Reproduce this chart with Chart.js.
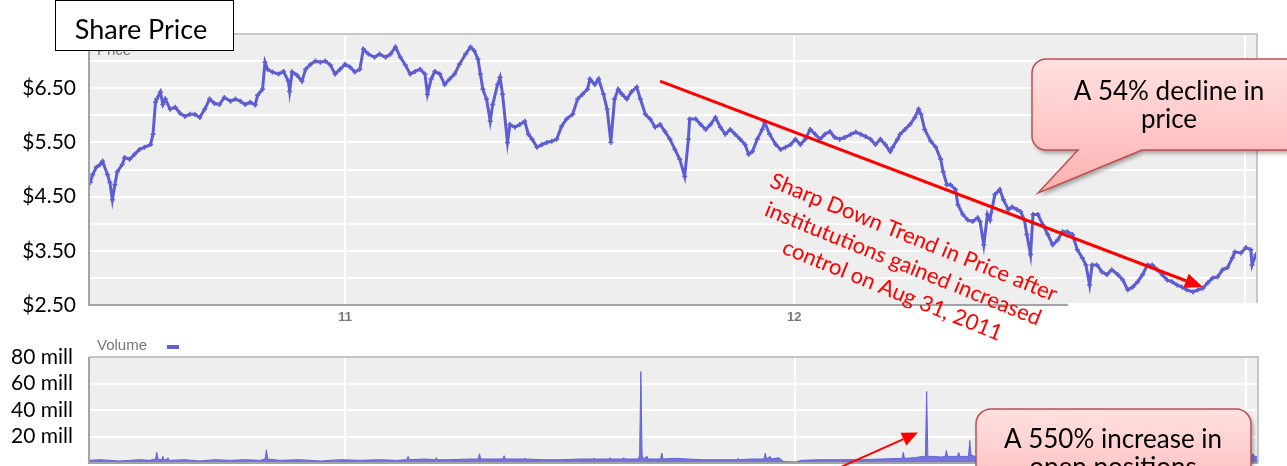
<!DOCTYPE html>
<html>
<head>
<meta charset="utf-8">
<script src="https://cdn.jsdelivr.net/npm/chart.js@4.4.0/dist/chart.umd.min.js"></script>
<style>
  body { margin: 0; background: #fff; overflow: hidden; }
  canvas { position: absolute; left: 0; }
  #price { top: 0; }
  #volume { top: 330px; }
</style>
</head>
<body>
<canvas id="price" width="1287" height="350"></canvas>
<canvas id="volume" width="1287" height="136"></canvas>
<script>
// x values are days counted from 1 Jan 2011
const yearStarts = [0, 365, 731];
const yearLabels = ['11', '12', ''];
const priceLabelValues = [2.5, 3.5, 4.5, 5.5, 6.5];
const volumeLabelValues = [20, 40, 60, 80];

// [day, share price $]
const pricePoints = [
  [-207,4.76],[-205,4.91],[-202,5.04],[-199,5.09],[-197,5.15],[-193,4.91],[-191,4.76],[-189,4.44],
  [-187,4.72],[-185,4.96],[-181,5.09],[-179,5.22],[-175,5.19],[-171,5.28],[-167,5.37],[-163,5.41],
  [-158,5.46],[-156,5.65],[-154,6.24],[-153,6.30],[-150,6.43],[-148,6.20],[-146,6.30],[-142,6.11],
  [-138,6.15],[-134,6.04],[-130,5.98],[-126,6.02],[-122,6.02],[-118,5.96],[-114,6.11],[-110,6.30],
  [-106,6.22],[-102,6.20],[-98,6.33],[-93,6.26],[-89,6.30],[-85,6.26],[-81,6.20],[-77,6.24],
  [-73,6.19],[-71,6.37],[-67,6.48],[-65,6.98],[-63,6.85],[-59,6.80],[-54,6.76],[-50,6.81],
  [-46,6.63],[-45,6.44],[-43,6.80],[-39,6.74],[-35,6.63],[-32,6.85],[-28,6.94],[-24,7.00],
  [-20,6.98],[-16,7.00],[-12,6.93],[-8,6.76],[-4,6.85],[0,6.94],[4,6.89],[8,6.80],
  [12,6.85],[15,7.22],[19,7.13],[24,7.07],[28,7.13],[33,7.07],[37,7.13],[41,7.26],
  [45,7.07],[49,6.93],[53,6.76],[57,6.81],[61,6.85],[65,6.76],[67,6.39],[70,6.67],
  [73,6.81],[77,6.76],[81,6.57],[85,6.67],[89,6.76],[93,6.94],[98,7.13],[102,7.26],
  [105,7.19],[108,7.04],[110,6.76],[112,6.48],[115,6.30],[118,5.89],[120,6.20],[124,6.57],
  [126,6.70],[128,6.39],[132,5.50],[134,5.83],[138,5.78],[142,5.83],[146,5.89],[149,5.65],
  [152,5.56],[156,5.41],[160,5.46],[164,5.50],[168,5.52],[172,5.56],[176,5.80],[180,5.93],
  [185,6.02],[189,6.30],[193,6.39],[197,6.48],[199,6.67],[203,6.57],[206,6.67],[210,6.39],
  [213,6.11],[216,5.50],[219,6.30],[222,6.48],[225,6.39],[229,6.30],[233,6.44],[237,6.52],
  [240,6.30],[244,6.02],[248,5.93],[252,5.78],[256,5.83],[260,5.70],[264,5.56],[268,5.37],
  [272,5.19],[276,4.87],[279,5.56],[280,5.93],[285,5.93],[289,5.83],[293,5.74],[297,5.83],
  [301,5.96],[305,5.78],[309,5.65],[313,5.74],[317,5.65],[321,5.56],[325,5.46],[328,5.28],
  [331,5.33],[335,5.56],[339,5.74],[341,5.87],[345,5.65],[350,5.46],[354,5.37],[358,5.41],
  [362,5.46],[366,5.56],[370,5.46],[374,5.56],[378,5.74],[382,5.65],[386,5.56],[390,5.65],
  [394,5.70],[398,5.59],[402,5.56],[406,5.59],[411,5.65],[415,5.69],[419,5.65],[423,5.61],
  [427,5.56],[431,5.46],[435,5.56],[439,5.46],[443,5.33],[445,5.41],[449,5.56],[451,5.65],
  [455,5.74],[459,5.83],[463,5.96],[466,6.11],[468,6.02],[471,5.74],[476,5.52],[480,5.41],
  [484,5.19],[486,4.96],[489,4.72],[492,4.72],[496,4.63],[498,4.35],[502,4.17],[506,4.07],
  [510,4.04],[514,4.11],[516,4.04],[519,3.61],[522,4.17],[524,4.07],[528,4.54],[532,4.63],
  [535,4.44],[539,4.26],[542,4.31],[546,4.26],[549,4.22],[552,4.07],[554,3.80],[557,3.43],
  [559,4.17],[563,4.17],[567,3.98],[571,3.80],[575,3.61],[579,3.70],[583,3.85],[587,3.85],
  [591,3.80],[595,3.52],[599,3.37],[602,3.24],[605,2.87],[607,3.24],[611,3.24],[615,3.11],
  [619,3.06],[623,3.15],[628,3.06],[632,2.96],[636,2.78],[640,2.83],[644,2.93],[648,3.06],
  [652,3.24],[656,3.24],[660,3.15],[664,3.06],[668,2.96],[672,2.93],[676,2.87],[680,2.83],
  [684,2.78],[689,2.74],[693,2.78],[697,2.81],[701,2.91],[705,3.00],[709,3.02],[713,3.15],
  [717,3.19],[721,3.37],[723,3.48],[728,3.46],[732,3.56],[736,3.52],[737,3.24],[740,3.43]
];

// [day, shares traded in millions]
const volumePoints = [
  [-208,2],[-199,2.5],[-183,1.5],[-167,2.5],[-159,2],[-154,3],[-153,8],[-152,3],[-149,2.5],[-148,5],
  [-147,2.5],[-145,2.5],[-144,4],[-143,2],[-130,2.5],[-118,1.5],[-106,2.5],[-93,2],[-81,2.5],[-69,2],
  [-65,3],[-64,10],[-63,3],[-53,2],[-37,2.5],[-20,1.5],[-4,2.5],[12,2],[28,2.5],[41,2],
  [50,2.5],[51,5],[52,2.5],[65,3],[73,2.5],[74,4],[75,2.5],[85,2.5],[102,3],[108,3],
  [109,7],[110,3],[122,3],[128,3],[129,5.5],[130,3],[145,3],[146,3.5],[147,3],[159,2.5],
  [175,2.5],[191,3],[201,3],[202,3.5],[203,3],[214,3],[215,4],[216,3],[225,3],[226,4],
  [227,3],[238,3],[239,6],[240,69],[241,6],[242,3],[245,5],[246,3],[252,3],[256,3],
  [257,7.5],[258,3],[268,3.5],[278,3],[289,2.5],[305,2.5],[318,2.5],[319,3.5],[320,2.5],[329,3],
  [340,3],[341,7.5],[342,3],[345,5],[346,3],[352,4],[356,1],[366,0.8],[370,2],[386,2.5],
  [402,2.5],[419,2.5],[435,3],[451,3.5],[452,3],[453,8],[454,3.5],[462,4],[469,5],[471,5],
  [472,54],[473,5],[477,5],[484,4.5],[487,5],[488,9.4],[489,5],[497,5],[498,8],[499,5],
  [506,5],[507,17],[508,6],[511,5],[524,5],[549,5],[581,5],[614,5],[654,5],[695,5],
  [728,5],[736,5],[737,7],[738,5],[741,5]
];

// trend arrow on the price panel: [day, price] start and end
const trendArrow = [[256, 6.63], [697, 2.83]];
// arrow on the volume panel: [day, millions] start and tip
const volumeArrow = [[400, -4], [465, 23]];

const trendText = ['Sharp Down Trend in Price after', 'institututions gained increased', 'control on Aug 31, 2011'];
const priceNote = ['A 54% decline in', 'price'];
const volumeNote = ['A 550% increase in', 'open positions'];

Chart.defaults.font.family = 'Lato, "Noto Sans", sans-serif';
Chart.defaults.color = '#000';

const plotBackground = {
  id: 'plotBackground',
  beforeDraw(chart) {
    const { ctx, chartArea: a } = chart;
    ctx.save();
    ctx.fillStyle = '#eeeeee';
    ctx.fillRect(a.left, a.top, a.right - a.left, a.bottom - a.top);
    ctx.restore();
  }
};

function drawFrame(chart) {
  const { ctx, chartArea: a } = chart;
  ctx.save();
  ctx.lineWidth = 2;
  ctx.strokeStyle = '#c6c6c6';
  ctx.beginPath();
  ctx.moveTo(a.left, a.top); ctx.lineTo(a.right, a.top); ctx.lineTo(a.right, a.bottom);
  ctx.stroke();
  ctx.strokeStyle = '#a4a4a4';
  ctx.beginPath();
  ctx.moveTo(a.left, a.top); ctx.lineTo(a.left, a.bottom); ctx.lineTo(a.right, a.bottom);
  ctx.stroke();
  ctx.restore();
}

function drawArrow(ctx, x1, y1, x2, y2, width, headLen, headWidth) {
  const ang = Math.atan2(y2 - y1, x2 - x1);
  const bx = x2 - headLen * Math.cos(ang), by = y2 - headLen * Math.sin(ang);
  ctx.save();
  ctx.strokeStyle = ctx.fillStyle = '#ff0000';
  ctx.lineWidth = width;
  ctx.beginPath(); ctx.moveTo(x1, y1); ctx.lineTo(bx, by); ctx.stroke();
  ctx.beginPath();
  ctx.moveTo(x2, y2);
  ctx.lineTo(bx + headWidth / 2 * Math.sin(ang), by - headWidth / 2 * Math.cos(ang));
  ctx.lineTo(bx - headWidth / 2 * Math.sin(ang), by + headWidth / 2 * Math.cos(ang));
  ctx.closePath(); ctx.fill();
  ctx.restore();
}

// rounded callout box, optional tail on the bottom edge [baseLeft, baseRight, tipX, tipY]
function drawCallout(ctx, x, y, w, h, r, tail, lines, cx, firstBase) {
  ctx.save();
  ctx.beginPath();
  ctx.moveTo(x + r, y);
  ctx.lineTo(x + w - r, y);
  ctx.arcTo(x + w, y, x + w, y + r, r);
  ctx.lineTo(x + w, y + h - r);
  ctx.arcTo(x + w, y + h, x + w - r, y + h, r);
  if (tail) {
    ctx.lineTo(tail[1], y + h);
    ctx.lineTo(tail[2], tail[3]);
    ctx.lineTo(tail[0], y + h);
  }
  ctx.lineTo(x + r, y + h);
  ctx.arcTo(x, y + h, x, y + h - r, r);
  ctx.lineTo(x, y + r);
  ctx.arcTo(x, y, x + r, y, r);
  ctx.closePath();
  const g = ctx.createLinearGradient(0, y, 0, tail ? tail[3] : y + h);
  g.addColorStop(0, '#ffe1e1');
  g.addColorStop(1, '#ffb0b0');
  ctx.fillStyle = g;
  ctx.shadowColor = 'rgba(0,0,0,0.35)';
  ctx.shadowBlur = 4;
  ctx.shadowOffsetX = 2;
  ctx.shadowOffsetY = 3;
  ctx.fill();
  ctx.shadowColor = 'transparent';
  ctx.strokeStyle = '#c0504d';
  ctx.lineWidth = 1.5;
  ctx.stroke();
  ctx.fillStyle = '#000';
  ctx.font = '26px Lato';
  ctx.textAlign = 'center';
  ctx.textBaseline = 'alphabetic';
  lines.forEach((t, i) => ctx.fillText(t, cx, firstBase + i * 28));
  ctx.restore();
}

const priceNotes = {
  id: 'priceNotes',
  afterDraw(chart) {
    const { ctx, scales } = chart;
    drawFrame(chart);
    ctx.save();
    // blank strip under the right part of the panel
    ctx.fillStyle = '#fff';
    ctx.fillRect(1068, 303, 219, 47);
    // panel legend, partly hidden by the title box
    ctx.fillStyle = '#777';
    ctx.font = '15px Arial';
    ctx.textBaseline = 'alphabetic';
    ctx.fillText('Price', 97, 55);
    ctx.restore();

    const [a, b] = trendArrow;
    drawArrow(ctx, scales.x.getPixelForValue(a[0]), scales.y.getPixelForValue(a[1]),
      scales.x.getPixelForValue(b[0]), scales.y.getPixelForValue(b[1]), 3, 18, 15);

    ctx.save();
    ctx.translate(903, 264);
    ctx.rotate(22 * Math.PI / 180);
    ctx.fillStyle = '#ff0000';
    ctx.font = '22px Lato';
    ctx.textAlign = 'center';
    ctx.textBaseline = 'middle';
    trendText.forEach((t, i) => ctx.fillText(t, 0, (i - 1) * 28.5));
    ctx.restore();

    drawCallout(ctx, 1032, 59, 290, 91, 14, [1078, 1142, 1038, 193], priceNote, 1169, 100);

    // title box
    ctx.save();
    ctx.fillStyle = '#fff';
    ctx.fillRect(55, 0, 179, 51);
    ctx.strokeStyle = '#000';
    ctx.lineWidth = 1;
    ctx.strokeRect(55.5, 0.5, 178, 50);
    ctx.fillStyle = '#000';
    ctx.font = '27px Lato';
    ctx.textAlign = 'center';
    ctx.fillText('Share Price', 141, 39);
    ctx.restore();
  }
};

const volumeNotes = {
  id: 'volumeNotes',
  afterDraw(chart) {
    const { ctx, scales } = chart;
    drawFrame(chart);
    ctx.save();
    ctx.fillStyle = '#777';
    ctx.font = '15px Arial';
    ctx.textBaseline = 'middle';
    ctx.fillText('Volume', 97, 16);
    ctx.fillStyle = '#6060d0';
    ctx.fillRect(167, 15, 12, 4);
    ctx.restore();

    const [a, b] = volumeArrow;
    drawArrow(ctx, scales.x.getPixelForValue(a[0]), scales.y.getPixelForValue(a[1]),
      scales.x.getPixelForValue(b[0]), scales.y.getPixelForValue(b[1]), 2, 16, 14);

    drawCallout(ctx, 976, 79, 275, 110, 15, null, volumeNote, 1113, 118);
  }
};

function yearTicks(scale) {
  scale.ticks = yearStarts.map(v => ({ value: v }));
}

function fixLeftAxis(scale) {
  scale.width = 89;
  scale.paddingTop = 0;
  scale.paddingBottom = 0;
}

new Chart(document.querySelector('#price'), {
  type: 'line',
  data: {
    datasets: [{
      label: 'Price',
      data: pricePoints.map(p => ({ x: p[0], y: p[1] })),
      borderColor: '#5d5dd3',
      borderWidth: 3,
      pointStyle: 'cross',
      pointRadius: 2.5,
      pointBorderWidth: 1.5,
      pointBorderColor: '#5d5dd3',
      tension: 0
    }]
  },
  options: {
    responsive: false,
    animation: false,
    devicePixelRatio: 1,
    layout: { padding: { top: 34, right: 30, bottom: 20, left: 0 } },
    plugins: { legend: { display: false }, tooltip: { enabled: false } },
    scales: {
      x: {
        type: 'linear', min: -208, max: 741,
        afterBuildTicks: yearTicks,
        afterFit: s => { s.height = 25; },
        border: { display: false },
        grid: { color: '#fff', lineWidth: 2, drawTicks: false },
        ticks: {
          padding: 5, color: '#777', font: { size: 13, weight: 'bold', family: 'Arial' },
          callback: v => { const i = yearStarts.indexOf(v); return i < 0 ? '' : yearLabels[i]; }
        }
      },
      y: {
        min: 2.5, max: 7.5,
        afterFit: fixLeftAxis,
        border: { display: false },
        grid: { color: '#fff', lineWidth: 2, drawTicks: false },
        ticks: {
          stepSize: 0.5, padding: 13, autoSkip: false, font: { size: 21 },
          callback: v => priceLabelValues.some(p => Math.abs(p - v) < 1e-6) ? '$' + v.toFixed(2) : ''
        }
      }
    }
  },
  plugins: [plotBackground, priceNotes]
});

new Chart(document.querySelector('#volume'), {
  type: 'line',
  data: {
    datasets: [{
      label: 'Volume',
      data: volumePoints.map(p => ({ x: p[0], y: p[1] })),
      borderColor: '#6262d6',
      backgroundColor: '#7474dc',
      borderWidth: 1,
      fill: 'origin',
      pointRadius: 0,
      tension: 0
    }]
  },
  options: {
    responsive: false,
    animation: false,
    devicePixelRatio: 1,
    layout: { padding: { top: 27, right: 29, bottom: 0, left: 0 } },
    plugins: { legend: { display: false }, tooltip: { enabled: false } },
    scales: {
      x: {
        type: 'linear', min: -208, max: 741,
        afterBuildTicks: yearTicks,
        afterFit: s => { s.height = 3; },
        border: { display: false },
        grid: { color: '#fff', lineWidth: 2, drawTicks: false },
        ticks: { display: false }
      },
      y: {
        min: 0, max: 80,
        afterFit: fixLeftAxis,
        border: { display: false },
        grid: { color: '#fff', lineWidth: 2, drawTicks: false },
        ticks: {
          stepSize: 20, padding: 16, autoSkip: false, font: { size: 21 },
          callback: v => volumeLabelValues.includes(v) ? v + ' mill' : ''
        }
      }
    }
  },
  plugins: [plotBackground, volumeNotes]
});
</script>
</body>
</html>
